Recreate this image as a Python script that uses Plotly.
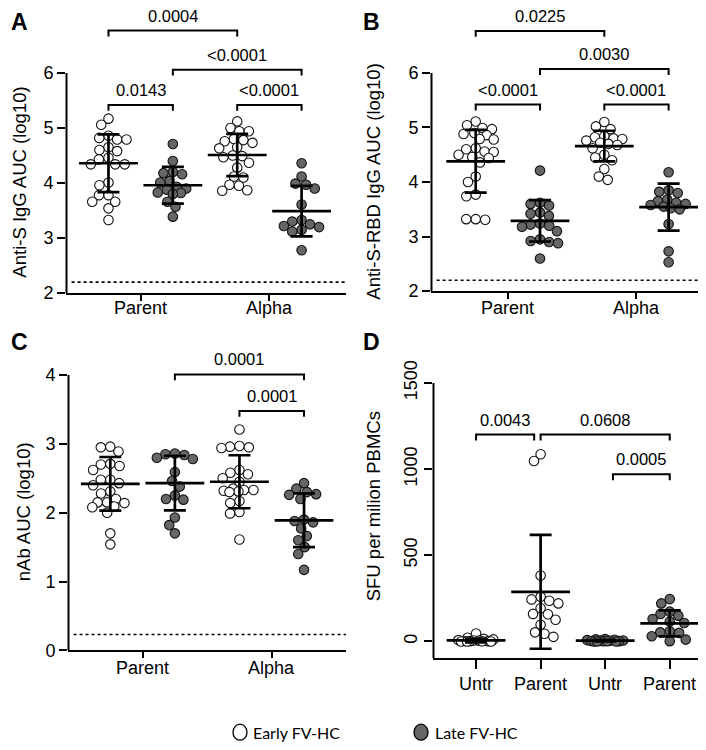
import math
import plotly.graph_objects as go

# ---------------- data ----------------
ab_ticks = ["Parent", "Alpha"]
d_ticks = ["Untr", "Parent", "Untr", "Parent"]
legend_names = ["Early FV-HC", "Late FV-HC"]

# A: Anti-S IgG AUC (log10)  -- order: parent early, parent late, alpha early, alpha late
a_parent_early = [5.17, 5.06, 4.86, 4.82, 4.79, 4.79, 4.65, 4.60, 4.58, 4.46, 4.43,
                  4.34, 4.34, 4.34, 4.01, 3.96, 3.78, 3.78, 3.66, 3.66, 3.54, 3.33]
a_parent_late = [4.71, 4.40, 4.20, 4.18, 4.16, 4.04, 4.01, 3.93, 3.90, 3.88, 3.83,
                 3.82, 3.80, 3.66, 3.57, 3.39]
a_alpha_early = [5.12, 5.00, 4.94, 4.94, 4.80, 4.78, 4.76, 4.73, 4.65, 4.63, 4.50,
                 4.49, 4.47, 4.37, 4.28, 4.12, 4.10, 3.97, 3.95, 3.87, 3.86]
a_alpha_late = [4.36, 4.12, 3.99, 3.97, 3.90, 3.61, 3.33, 3.30, 3.25, 3.22, 3.20,
                3.15, 3.12, 2.78]
a_mean = [4.36, 3.96, 4.51, 3.49]
a_sd = [0.525, 0.335, 0.385, 0.46]
a_pvals = ["0.0004", "<0.0001", "0.0143", "<0.0001"]

# B: Anti-S-RBD IgG AUC (log10)
b_parent_early = [5.11, 5.04, 4.99, 4.97, 4.90, 4.88, 4.86, 4.79, 4.78, 4.62, 4.60,
                  4.56, 4.55, 4.50, 4.46, 4.44, 4.36, 4.10, 4.00, 3.77, 3.74, 3.32,
                  3.32, 3.31]
b_parent_late = [4.21, 3.62, 3.60, 3.57, 3.44, 3.42, 3.38, 3.24, 3.22, 3.20, 3.18,
                 3.10, 2.95, 2.92, 2.90, 2.88, 2.60]
b_alpha_early = [5.10, 5.02, 4.97, 4.84, 4.82, 4.80, 4.79, 4.76, 4.72, 4.70, 4.68,
                 4.62, 4.50, 4.45, 4.40, 4.24, 4.10, 4.04]
b_alpha_late = [4.18, 3.85, 3.82, 3.80, 3.68, 3.65, 3.62, 3.60, 3.58, 3.55, 3.52,
                3.50, 3.23, 2.73, 2.53]
b_mean = [4.38, 3.29, 4.66, 3.54]
b_sd = [0.575, 0.38, 0.28, 0.43]
b_pvals = ["0.0225", "0.0030", "<0.0001", "<0.0001"]

# C: nAb AUC (log10)
c_parent_early = [2.96, 2.95, 2.89, 2.71, 2.70, 2.68, 2.62, 2.48, 2.48, 2.43, 2.40,
                  2.31, 2.28, 2.20, 2.15, 2.15, 2.14, 2.09, 2.08, 2.00, 1.70, 1.54]
c_parent_late = [2.86, 2.85, 2.84, 2.80, 2.78, 2.59, 2.46, 2.38, 2.25, 2.20, 2.19,
                 1.93, 1.82, 1.70]
c_alpha_early = [3.21, 2.97, 2.96, 2.95, 2.94, 2.62, 2.58, 2.56, 2.50, 2.45, 2.35,
                 2.33, 2.33, 2.32, 2.31, 2.30, 2.17, 2.14, 2.01, 1.99, 1.61]
c_alpha_late = [2.43, 2.35, 2.30, 2.27, 2.26, 2.20, 1.90, 1.88, 1.86, 1.77, 1.66,
                1.60, 1.50, 1.40, 1.17]
c_mean = [2.42, 2.43, 2.45, 1.89]
c_sd = [0.39, 0.395, 0.385, 0.39]
c_pvals = ["0.0001", "0.0001"]

# D: SFU per million PBMCs -- order: untr early, parent early, untr late, parent late
d_untr_early = [46, 22, 15, 12, 8, 6, 5, 3, 2, 2, 1, 0, 0, 0]
d_parent_early = [1086, 1047, 383, 259, 244, 236, 221, 193, 160, 158, 126, 97, 53, 45, 27]
d_untr_late = [14, 12, 10, 8, 6, 5, 4, 3, 2, 2, 1, 0, 0, 0]
d_parent_late = [246, 221, 173, 160, 150, 130, 116, 107, 59, 53, 50, 30, 11, 2]
d_mean = [6, 288, 5, 105]
d_sd = [11, 330, 5, 75]
d_pvals = ["0.0043", "0.0608", "0.0005"]

# ---------------- layout ----------------
W, H = 706, 750
FONT = "Liberation Sans"
OPEN, FILLED = "white", "#666666"

panels = [
    dict(letter="A", box=(58, 338, 0, 289), xr=[-0.66, 3.69], yr=[2, 7.18],
         groups=[a_parent_early, a_parent_late, a_alpha_early, a_alpha_late],
         fills=[OPEN, FILLED, OPEN, FILLED], mean=a_mean, sd=a_sd,
         tickpos=[0.5, 2.5], ticktext=ab_ticks, label_top=292,
         yticks=[2, 3, 4, 5, 6], yline=(2, 6),
         lod=2.2, title="Anti-S IgG AUC (log10)", title_xy=(12, 177), letter_xy=(11, 14),
         brackets=[(0, 2, 6.77), (1, 3, 6.06), (0, 1, 5.42), (2, 3, 5.42)], pvals=a_pvals),
    dict(letter="B", box=(423, 705, 0, 287), xr=[-0.695, 3.69], yr=[2, 7.19],
         groups=[b_parent_early, b_parent_late, b_alpha_early, b_alpha_late],
         fills=[OPEN, FILLED, OPEN, FILLED], mean=b_mean, sd=b_sd,
         tickpos=[0.5, 2.5], ticktext=ab_ticks, label_top=292,
         yticks=[2, 3, 4, 5, 6], yline=(2, 6),
         lod=2.2, title="Anti-S-RBD IgG AUC (log10)", title_xy=(366, 176), letter_xy=(363, 14),
         brackets=[(0, 2, 6.77), (1, 3, 6.07), (0, 1, 5.42), (2, 3, 5.42)], pvals=b_pvals),
    dict(letter="C", box=(60, 338, 340, 651), xr=[-0.655, 3.65], yr=[0, 4.46],
         groups=[c_parent_early, c_parent_late, c_alpha_early, c_alpha_late],
         fills=[OPEN, FILLED, OPEN, FILLED], mean=c_mean, sd=c_sd,
         tickpos=[0.5, 2.5], ticktext=ab_ticks, label_top=657,
         yticks=[0, 1, 2, 3, 4], yline=(0, 4),
         lod=0.23, title="nAb AUC (log10)", title_xy=(15, 511), letter_xy=(11, 339),
         brackets=[(1, 3, 4.01), (2, 3, 3.48)], pvals=c_pvals),
    dict(letter="D", box=(425, 705, 345, 659), xr=[-0.667, 3.67], yr=[-97, 1700],
         groups=[d_untr_early, d_parent_early, d_untr_late, d_parent_late],
         fills=[OPEN, OPEN, FILLED, FILLED], mean=d_mean, sd=d_sd,
         tickpos=[0, 1, 2, 3], ticktext=d_ticks, label_top=673,
         yticks=[0, 500, 1000, 1500], yline=(-97, 1500),
         lod=None, title="SFU per milion PBMCs", title_xy=(365, 505), letter_xy=(363, 339),
         brackets=[(0, 0.9, 1200), (1.0, 3, 1200), (2.12, 3, 970)], pvals=d_pvals),
]


def swarm(vals, sy, diam=9.5, half=18.0):
    """beeswarm offsets (pixels) for one group"""
    order = sorted(range(len(vals)), key=lambda i: -vals[i])
    placed, offs = [], [0.0] * len(vals)
    for i in order:
        y = vals[i] * sy
        iv = []
        for xo, yo in placed:
            dy = abs(y - yo)
            if dy < diam:
                dx = math.sqrt(diam ** 2 - dy ** 2)
                iv.append((xo - dx, xo + dx))
        cands = [0.0] + [a for a, b in iv] + [b for a, b in iv]
        ok = [c for c in cands if abs(c) <= half
              and all(not (a + 1e-6 < c < b - 1e-6) for a, b in iv)]
        if ok:
            best = min(ok, key=lambda c: (abs(c), c))
        else:
            grid = [-half + k * half / 18 for k in range(37)]
            best = max(grid, key=lambda g: (min(math.hypot(g - xo, y - yo) for xo, yo in placed), -abs(g)))
        placed.append((best, y))
        offs[i] = best
    return offs


fig = go.Figure()
shapes, annos = [], []
layout_axes = {}

for n, p in enumerate(panels, start=1):
    l, r, t, b = p["box"]
    xid, yid = ("x", "y") if n == 1 else (f"x{n}", f"y{n}")
    sx = (r - l) / (p["xr"][1] - p["xr"][0])
    sy = (b - t) / (p["yr"][1] - p["yr"][0])
    is_d = p["letter"] == "D"

    for g, vals in enumerate(p["groups"]):
        offs = swarm(vals, sy)
        fig.add_trace(go.Scatter(
            x=[g + o / sx for o in offs], y=vals, mode="markers",
            marker=dict(size=9.5, color=p["fills"][g], line=dict(color="#111111", width=1.1)),
            xaxis=xid, yaxis=yid, showlegend=False, hoverinfo="skip", cliponaxis=False))

    fig.add_trace(go.Scatter(
        x=list(range(4)), y=p["mean"], mode="markers",
        marker=dict(symbol="line-ew", size=42, line=dict(color="black", width=2.7)),
        error_y=dict(type="data", array=p["sd"], symmetric=True, color="black",
                     thickness=2.7, width=11),
        xaxis=xid, yaxis=yid, showlegend=False, hoverinfo="skip", cliponaxis=False))

    layout_axes["xaxis" if n == 1 else f"xaxis{n}"] = dict(
        domain=[l / W, r / W], range=p["xr"], anchor=yid, showline=True, linewidth=2,
        linecolor="black", ticks="outside", ticklen=9 if is_d else 6,
        tickwidth=2, tickcolor="black", tickvals=p["tickpos"], showticklabels=False,
        showgrid=False, zeroline=False)
    layout_axes["yaxis" if n == 1 else f"yaxis{n}"] = dict(
        domain=[(H - b) / H, (H - t) / H], range=p["yr"], anchor=xid, showline=False,
        ticks="outside", ticklen=8, tickwidth=2, tickcolor="black", tickvals=p["yticks"],
        tickangle=-90 if is_d else 0,
        tickfont=dict(size=18, color="black", family=FONT), showgrid=False, zeroline=False)

    # category labels under the x axis
    for xv, txt in zip(p["tickpos"], p["ticktext"]):
        annos.append(dict(x=xv, y=(H - p["label_top"]) / H, xref=xid, yref="paper", text=txt,
                          showarrow=False, xanchor="center", yanchor="top",
                          font=dict(size=18, color="black", family=FONT)))

    # y axis line only over the labelled span
    shapes.append(dict(type="line", xref="paper", yref=yid, x0=(l + 0.5) / W, x1=(l + 0.5) / W,
                       y0=p["yline"][0], y1=p["yline"][1], line=dict(color="black", width=2)))
    if p["lod"] is not None:
        shapes.append(dict(type="line", xref=f"{xid} domain", yref=yid, x0=0.02, x1=1,
                           y0=p["lod"], y1=p["lod"], line=dict(color="black", width=1.6, dash="dot")))

    drop = 6 / sy
    for (x1, x2, yb), lab in zip(p["brackets"], p["pvals"]):
        shapes.append(dict(type="path", xref=xid, yref=yid,
                           path=f"M {x1},{yb - drop} L {x1},{yb} L {x2},{yb} L {x2},{yb - drop}",
                           line=dict(color="black", width=2)))
        annos.append(dict(x=(x1 + x2) / 2, y=yb, xref=xid, yref=yid, text=lab, showarrow=False,
                          yshift=15, font=dict(size=16.5, color="black", family=FONT)))

    annos.append(dict(x=p["title_xy"][0] / W, y=(H - p["title_xy"][1]) / H, xref="paper",
                      yref="paper", text=p["title"], textangle=-90, showarrow=False,
                      xanchor="center", yanchor="middle",
                      font=dict(size=18.5, color="black", family=FONT)))
    annos.append(dict(x=p["letter_xy"][0] / W, y=(H - p["letter_xy"][1]) / H, xref="paper",
                      yref="paper", text=f"<b>{p['letter']}</b>", showarrow=False,
                      xanchor="center", yanchor="middle",
                      font=dict(size=23, color="black", family=FONT)))

# legend (bottom centre)
for (cx, tx), name, fill in zip([(232, 243), (413, 425)], legend_names, [OPEN, FILLED]):
    shapes.append(dict(type="circle", xref="paper", yref="paper", xsizemode="pixel",
                       ysizemode="pixel", xanchor=cx / W, yanchor=(H - 734) / H,
                       x0=-7, x1=7, y0=-8, y1=8, fillcolor=fill,
                       line=dict(color="black", width=1.3)))
    annos.append(dict(x=tx / W, y=(H - 734) / H, xref="paper", yref="paper", text=name,
                      showarrow=False, xanchor="left", yanchor="middle",
                      font=dict(size=16, color="black", family="Lato, Carlito, sans-serif")))

fig.update_layout(
    width=W, height=H, margin=dict(l=0, r=0, t=0, b=0),
    paper_bgcolor="white", plot_bgcolor="white",
    shapes=shapes, annotations=annos, **layout_axes)

fig.write_html("out.html")
